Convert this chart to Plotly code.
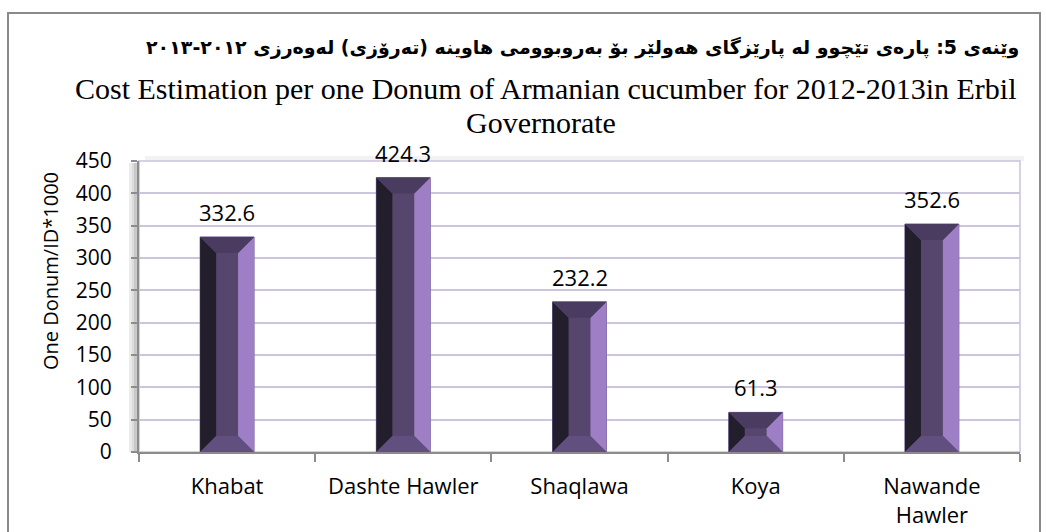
import plotly.graph_objects as go

# ---------------- data ----------------
categories = ["Khabat", "Dashte Hawler", "Shaqlawa", "Koya", "Nawande<br>Hawler"]
values = [332.6, 424.3, 232.2, 61.3, 352.6]
value_labels = ["332.6", "424.3", "232.2", "61.3", "352.6"]
y_tick_values = [0, 50, 100, 150, 200, 250, 300, 350, 400, 450]

title_ku = "وێنەی 5: پارەی تێچوو لە پارێزگای هەولێر بۆ بەروبوومی هاوینە (تەرۆزی) لەوەرزی ٢٠١٢-٢٠١٣"
title_en1 = "Cost Estimation per one Donum of Armanian cucumber for 2012-2013in Erbil"
title_en2 = "Governorate"
y_title = "One Donum/ID*1000"

# ---------------- layout geometry ----------------
W, H = 1046, 532
L, R, T, B = 139, 26, 161, 80
PW, PH = W - L - R, H - T - B
Y_MAX = 450

def px_x(px):
    return (px - L) / PW

def px_y(py):
    return (H - B - py) / PH

bar_width = 0.306
bevel_px = 16
bx = bevel_px / (PW / len(categories))
by = bevel_px * Y_MAX / PH

c_left = "#221e2c"
c_mid = "#56456d"
c_right = "#9e7fc6"
c_top = "#4a3c60"
c_bot = "#614f80"
c_edge = "#7a66a0"

fig = go.Figure()
fig.add_trace(go.Bar(
    x=categories, y=values, width=bar_width,
    marker=dict(color=c_mid, line=dict(color=c_edge, width=1)),
    hoverinfo="skip", showlegend=False,
))

shapes = []

def poly(pts, color):
    path = "M " + " L ".join(f"{x},{y}" for x, y in pts) + " Z"
    return dict(type="path", path=path, xref="x", yref="y",
                fillcolor=color, line=dict(width=0), layer="above")

for i, v in enumerate(values):
    x0, x1 = i - bar_width / 2, i + bar_width / 2
    y0, y1 = 0, v
    b_y = min(by, v / 2)
    shapes.append(poly([(x0, y0), (x0 + bx, y0 + b_y), (x0 + bx, y1 - b_y), (x0, y1)], c_left))
    shapes.append(poly([(x1, y0), (x1 - bx, y0 + b_y), (x1 - bx, y1 - b_y), (x1, y1)], c_right))
    shapes.append(poly([(x0, y1), (x1, y1), (x1 - bx, y1 - b_y), (x0 + bx, y1 - b_y)], c_top))
    shapes.append(poly([(x0, y0), (x1, y0), (x1 - bx, y0 + b_y), (x0 + bx, y0 + b_y)], c_bot))

# plot-area left shadow
shadow_cols = ["#ececec", "#dcdcdc", "#c8c8c8", "#b4b4b4"]
for k, col in enumerate(shadow_cols):
    shapes.append(dict(type="rect", xref="paper", yref="paper",
                       x0=px_x(129 + k * 2.5), x1=px_x(131.5 + k * 2.5),
                       y0=px_y(452), y1=px_y(163),
                       fillcolor=col, line=dict(width=0), layer="below"))
# faint top shadow
shapes.append(dict(type="rect", xref="paper", yref="paper",
                   x0=px_x(145), x1=px_x(1024), y0=px_y(161), y1=px_y(156),
                   fillcolor="#f2f2f2", line=dict(width=0), layer="below"))
# plot-area top/right border
shapes.append(dict(type="rect", xref="paper", yref="paper", x0=0, x1=1, y0=0, y1=1,
                   line=dict(color="#cbc2dd", width=1.5), layer="below"))
# outer chart border
shapes.append(dict(type="rect", xref="paper", yref="paper",
                   x0=px_x(8), x1=px_x(1040), y0=px_y(545), y1=px_y(13),
                   line=dict(color="#8a8a8a", width=2), layer="below"))

annotations = []
for c, v, lab in zip(categories, values, value_labels):
    annotations.append(dict(x=c, y=v, xref="x", yref="y", text=lab, showarrow=False,
                            yanchor="middle", yshift=25,
                            font=dict(family="Open Sans", size=22, color="#000000")))

annotations.append(dict(x=px_x(582), y=px_y(47), xref="paper", yref="paper",
                        text="<b>" + title_ku + "</b>", showarrow=False,
                        xanchor="center", yanchor="middle",
                        font=dict(family="DejaVu Sans", size=19, color="#000000")))
annotations.append(dict(x=px_x(545), y=px_y(88), xref="paper", yref="paper",
                        text=title_en1, showarrow=False, xanchor="center", yanchor="middle",
                        font=dict(family="Liberation Serif", size=30, color="#000000")))
annotations.append(dict(x=px_x(541), y=px_y(122), xref="paper", yref="paper",
                        text=title_en2, showarrow=False, xanchor="center", yanchor="middle",
                        font=dict(family="Liberation Serif", size=30, color="#000000")))
annotations.append(dict(x=px_x(50), y=px_y(271), xref="paper", yref="paper",
                        text=y_title, showarrow=False, textangle=-90,
                        xanchor="center", yanchor="middle",
                        font=dict(family="Open Sans", size=20, color="#000000")))

fig.update_layout(
    width=W, height=H, autosize=False,
    margin=dict(l=L, r=R, t=T, b=B, pad=0),
    paper_bgcolor="#ffffff", plot_bgcolor="#ffffff",
    shapes=shapes, annotations=annotations,
    showlegend=False, bargap=0.69,
    xaxis=dict(
        type="category", tickson="boundaries", ticks="outside", ticklen=8,
        tickcolor="#8c8c8c", tickwidth=1.5,
        showline=True, linecolor="#8c8c8c", linewidth=2,
        showgrid=False, zeroline=False, automargin=False,
        tickfont=dict(family="Open Sans", size=22, color="#000000"),
        ticklabelstandoff=14,
    ),
    yaxis=dict(
        range=[0, Y_MAX], tickvals=y_tick_values,
        ticktext=[str(v) for v in y_tick_values],
        ticks="outside", ticklen=6, tickcolor="#8c8c8c", tickwidth=1.5,
        showline=True, linecolor="#8c8c8c", linewidth=2,
        showgrid=True, gridcolor="#cdc4df", gridwidth=1.5,
        zeroline=False, automargin=False,
        tickfont=dict(family="Open Sans", size=21, color="#000000"),
        ticklabelstandoff=15,
    ),
)

fig.write_html(
    "out.html",
    config={"displayModeBar": False, "responsive": False},
    post_script="document.body.style.margin='0';document.body.style.overflow='hidden';",
)
